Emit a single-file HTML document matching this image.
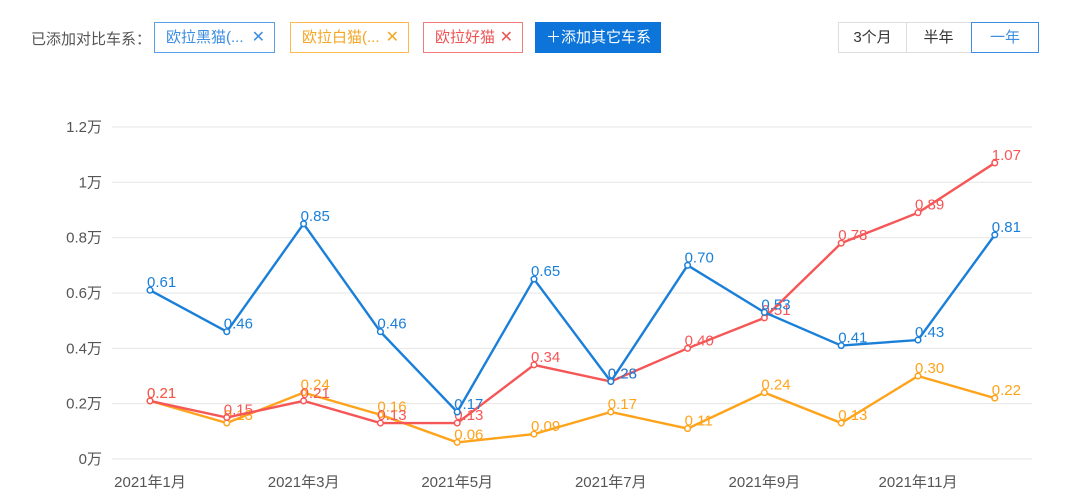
<!DOCTYPE html>
<html><head><meta charset="utf-8"><style>
body{margin:0;width:1080px;height:503px;background:#fff;font-family:"Liberation Sans","Noto Sans CJK SC",sans-serif;position:relative;overflow:hidden}
.t{position:absolute;font-size:14px;box-sizing:border-box}
.tag{position:absolute;top:22px;height:31px;border:1px solid;box-sizing:border-box;font-size:15px;line-height:29px;padding-left:11px}
.tag b{position:absolute;right:9px;font-weight:normal;font-size:16px}
.seg{position:absolute;top:22px;height:31px;border:1px solid #ddd;box-sizing:border-box;font-size:15px;line-height:29px;text-align:center;color:#333}
</style></head><body>
<div class="t" style="left:31px;top:28px;color:#555;font-size:15px">已添加对比车系：</div>
<div class="tag" style="left:154px;width:121px;border-color:#5aa0e6;color:#3d8ee0">欧拉黑猫(...<b>✕</b></div>
<div class="tag" style="left:290px;width:119px;border-color:#ffb84d;color:#f5a623">欧拉白猫(...<b>✕</b></div>
<div class="tag" style="left:423px;width:100px;border-color:#f37b7b;color:#ef5454">欧拉好猫<b>✕</b></div>
<div class="tag" style="left:535px;width:126px;background:#0d74d9;border-color:#0d74d9;color:#fff;padding-left:10px">＋添加其它车系</div>
<div class="seg" style="left:838px;width:69px">3个月</div>
<div class="seg" style="left:906px;width:66px;border-left:none">半年</div>
<div class="seg" style="left:971px;width:68px;border-color:#3d8ee0;color:#3d8ee0">一年</div>
<svg id="c" width="1080" height="503" style="position:absolute;left:0;top:0"></svg>
<script>
const months=["2021年1月","2021年2月","2021年3月","2021年4月","2021年5月","2021年6月","2021年7月","2021年8月","2021年9月","2021年10月","2021年11月","2021年12月"];
const blackCat=[0.61,0.46,0.85,0.46,0.17,0.65,0.28,0.70,0.53,0.41,0.43,0.81];
const whiteCat=[0.21,0.13,0.24,0.16,0.06,0.09,0.17,0.11,0.24,0.13,0.30,0.22];
const goodCat=[0.21,0.15,0.21,0.13,0.13,0.34,0.28,0.40,0.51,0.78,0.89,1.07];
const yTicks=[0,0.2,0.4,0.6,0.8,1,1.2];
const yTickLabels=["0万","0.2万","0.4万","0.6万","0.8万","1万","1.2万"];
const NS="http://www.w3.org/2000/svg",svg=document.getElementById('c');
const x=i=>150+i*76.8, y=v=>459-v*276.7;
function el(t,a){const e=document.createElementNS(NS,t);for(const k in a)e.setAttribute(k,a[k]);svg.appendChild(e);return e;}
yTicks.forEach((v,i)=>{
 const g=el('line',{x1:112,x2:1032,y1:y(v),y2:y(v),stroke:'#e6e6e6'});
 
 
 const t=el('text',{x:102,y:y(v)+5,'text-anchor':'end','font-size':15,fill:'#555'});t.textContent=yTickLabels[i];
 
 
});
months.forEach((m,i)=>{if(i%2)return;
 const t=el('text',{x:x(i),y:487,'text-anchor':'middle','font-size':15,fill:'#555'});t.textContent=m;
 
 
});
function series(d,c,n){
 const p=el('polyline',{points:d.map((v,i)=>x(i)+','+y(v)).join(' '),fill:'none',stroke:c,'stroke-width':2.4});
 
 
 d.forEach((v,i)=>{
  const ci=el('circle',{cx:x(i),cy:y(v),r:2.8,fill:'#fff',stroke:c,'stroke-width':1.5});
  
  
  const t=el('text',{x:x(i)-3,y:y(v)-3,'font-size':15,fill:c});t.textContent=v.toFixed(2);
  
  
 });
}
series(whiteCat,'#ffa31a','white-cat');
series(goodCat,'#f55656','good-cat');
series(blackCat,'#1a7fd9','black-cat');
</script>
</body></html>
